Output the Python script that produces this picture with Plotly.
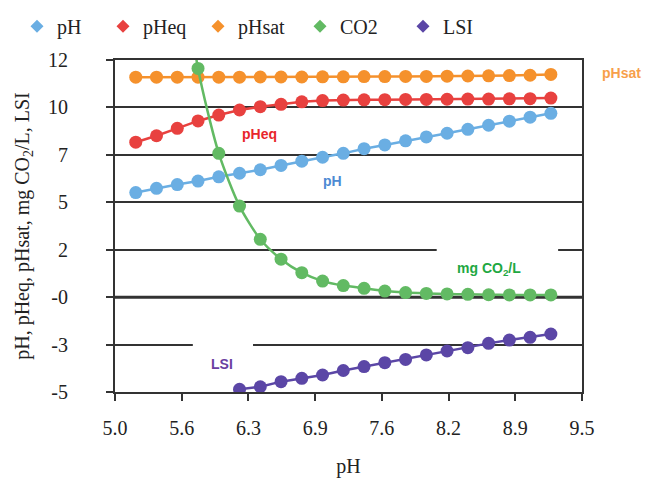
import numpy as np
import plotly.graph_objects as go

# Sample pH values (x axis)
ph_x = [5.2, 5.4, 5.6, 5.8, 6.0, 6.2, 6.4, 6.6, 6.8, 7.0, 7.2,
        7.4, 7.6, 7.8, 8.0, 8.2, 8.4, 8.6, 8.8, 9.0, 9.2]

# Series values
ph_vals = [5.21, 5.43, 5.62, 5.80, 6.02, 6.20, 6.38, 6.60, 6.82, 7.02, 7.22,
           7.46, 7.65, 7.86, 8.06, 8.25, 8.45, 8.66, 8.87, 9.07, 9.27]
pheq_vals = [7.79, 8.12, 8.50, 8.88, 9.18, 9.44, 9.61, 9.73, 9.86, 9.92, 9.95,
             9.96, 9.97, 9.98, 9.98, 9.99, 10.00, 10.00, 10.01, 10.02, 10.05]
phsat_vals = [11.12, 11.12, 11.12, 11.12, 11.12, 11.12, 11.13, 11.13, 11.13, 11.14, 11.14,
              11.15, 11.15, 11.16, 11.16, 11.17, 11.18, 11.19, 11.20, 11.22, 11.26]
co2_x = [5.6, 5.8, 6.0, 6.2, 6.4, 6.6, 6.8, 7.0, 7.2,
         7.4, 7.6, 7.8, 8.0, 8.2, 8.4, 8.6, 8.8, 9.0, 9.2]
co2_vals = [19.0, 11.57, 7.22, 4.52, 2.82, 1.80, 1.11, 0.68, 0.45,
            0.31, 0.17, 0.09, 0.05, 0.02, 0.00, -0.02, -0.03, -0.03, -0.03]
lsi_x = [6.2, 6.4, 6.6, 6.8, 7.0, 7.2,
         7.4, 7.6, 7.8, 8.0, 8.2, 8.4, 8.6, 8.8, 9.0, 9.2]
lsi_vals = [-4.86, -4.73, -4.47, -4.30, -4.13, -3.90,
            -3.70, -3.50, -3.33, -3.10, -2.90, -2.73, -2.51, -2.34, -2.20, -2.03]

series_names = ["pH", "pHeq", "pHsat", "CO2", "LSI"]
series_colors = ["#6AAEE3", "#E8413F", "#F5912C", "#62BA63", "#5B46A6"]
# Horizontal pixel position of each legend entry's symbol
legend_symbol_px = [37, 123, 218, 320, 423]

# Axis ranges and tick labels
x_range = [5.0, 9.5]
y_range = [-5.0, 12.0]
x_tick_labels = ["5.0", "5.6", "6.3", "6.9", "7.6", "8.2", "8.9", "9.5"]
y_tick_labels = ["-5", "-3", "-0", "2", "5", "7", "10", "12"]

x_ticks = np.linspace(x_range[0], x_range[1], len(x_tick_labels))
y_ticks = np.linspace(y_range[0], y_range[1], len(y_tick_labels))

W, H = 655, 484
SERIF = "Liberation Serif, Times New Roman, serif"
SANS = "Liberation Sans, Arial, sans-serif"
GRID = "#333333"
TEXT = "#222222"

fig = go.Figure()

data = [
    (ph_x, ph_vals, "linear"),
    (ph_x, pheq_vals, "linear"),
    (ph_x, phsat_vals, "linear"),
    (co2_x, co2_vals, "spline"),
    (lsi_x, lsi_vals, "linear"),
]
for (xs, ys, shape), name, color in zip(data, series_names, series_colors):
    fig.add_trace(go.Scatter(
        x=xs, y=ys, mode="lines+markers", name=name, showlegend=False,
        line=dict(color=color, width=2.5, shape=shape, smoothing=0.7),
        marker=dict(color=color, size=13),
    ))

# Marker-only legend entries, one legend box per entry
legend_layouts = {}
for i, (name, color, px) in enumerate(zip(series_names, series_colors, legend_symbol_px)):
    key = "legend" if i == 0 else f"legend{i + 1}"
    fig.add_trace(go.Scatter(
        x=[None], y=[None], mode="markers", name=name, legend=key,
        marker=dict(color=color, size=10, symbol="diamond"),
    ))
    legend_layouts[key] = dict(
        orientation="h", x=(px - 20) / W, y=0.986,
        xref="container", yref="container", xanchor="left", yanchor="top",
        font=dict(family=SERIF, size=20, color=TEXT),
        itemwidth=30, bgcolor="rgba(0,0,0,0)",
    )

# White boxes behind the in-plot labels (hide gridlines, stay under traces)
box_specs = [
    (8.10, 9.27, 0.25, 2.4),    # mg CO2/L
    (5.75, 6.33, -5.0, -2.35),  # LSI
]
for x0, x1, y0, y1 in box_specs:
    fig.add_shape(type="rect", xref="x", yref="y", x0=x0, x1=x1, y0=y0, y1=y1,
                  fillcolor="white", line=dict(width=0), layer="between")

# Emphasised near-zero gridline
fig.add_shape(type="line", xref="paper", yref="y", x0=0, x1=1,
              y0=y_ticks[2], y1=y_ticks[2], line=dict(color=GRID, width=3),
              layer="between")

labels = [
    ("pHsat", 621, 73, "#F7A04A"),
    ("pHeq", 259, 134, "#E8262B"),
    ("pH", 332, 181, "#4C8AD3"),
    ("mg CO<sub>2</sub>/L", 489, 269, "#1FA843"),
    ("LSI", 222, 364, "#6A3EA1"),
]
for text, px, py, color in labels:
    fig.add_annotation(
        text=text, xref="paper", yref="paper",
        x=(px - 115) / (582 - 115), y=(392 - py) / (392 - 60),
        showarrow=False, xanchor="center", yanchor="middle",
        font=dict(family=SANS, size=14, color=color, weight="bold"),
    )

fig.update_layout(
    width=W, height=H,
    margin=dict(l=115, r=73, t=60, b=92, autoexpand=False),
    paper_bgcolor="white", plot_bgcolor="white",
    font=dict(family=SERIF, size=20, color=TEXT),
    showlegend=True,
    xaxis=dict(
        range=x_range, tickvals=x_ticks, ticktext=x_tick_labels,
        tickfont=dict(family=SERIF, size=20, color=TEXT),
        showgrid=False, zeroline=False,
        showline=True, linecolor=GRID, linewidth=2, mirror=True,
        ticks="outside", ticklen=7, tickwidth=2, tickcolor=GRID,
        ticklabelstandoff=10,
        title=dict(text="pH", font=dict(family=SERIF, size=20, color=TEXT), standoff=21),
    ),
    yaxis=dict(
        range=y_range, tickvals=y_ticks, ticktext=y_tick_labels,
        tickfont=dict(family=SERIF, size=20, color=TEXT),
        showgrid=True, gridcolor=GRID, gridwidth=2, zeroline=False,
        showline=True, linecolor=GRID, linewidth=2, mirror=True,
        ticks="outside", ticklen=7, tickwidth=2, tickcolor=GRID,
        ticklabelstandoff=34,
        title=dict(text="pH, pHeq, pHsat, mg CO<sub>2</sub>/L, LSI",
                   font=dict(family=SERIF, size=20, color=TEXT), standoff=13),
    ),
    **legend_layouts,
)

fig.write_html("out.html")
